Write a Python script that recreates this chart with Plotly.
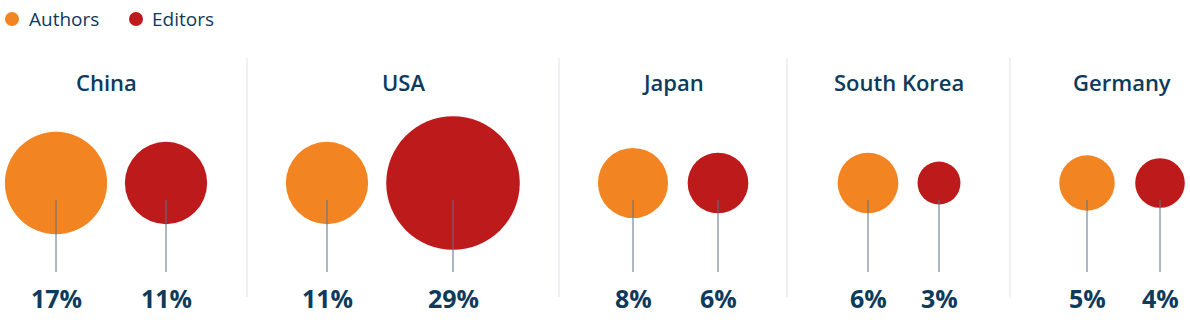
import plotly.graph_objects as go

# ---- data ----
countries = ["China", "USA", "Japan", "South Korea", "Germany"]
series_names = ["Authors", "Editors"]
authors_pct = [17, 11, 8, 6, 5]
editors_pct = [11, 29, 6, 3, 4]

# ---- layout constants (page pixel space) ----
W, H = 1190, 320
authors_x = [56, 327, 633, 868, 1087]
editors_x = [166, 453, 718, 939, 1160]
title_x = [106, 403, 673, 899, 1122]
sep_x = [247, 559, 787, 1010]
legend_dot_x = [12, 136]
legend_text_x = [27, 150]
LEGEND_Y = 19
CY = 183
STEM_TOP, STEM_BOT = 200, 272
LABEL_Y = 298
TITLE_Y = 82
PX_PER_SQRT = 24.8

ORANGE = "#F28522"
RED = "#BD1A1C"
NAVY = "#0E3A5C"
STEM = "#5E7184"
SEP = "#DCE0E5"
FONT = "Open Sans"
colors = [ORANGE, RED]

fig = go.Figure()

for name, xs, vals, col in ((series_names[0], authors_x, authors_pct, ORANGE),
                            (series_names[1], editors_x, editors_pct, RED)):
    fig.add_trace(go.Scatter(
        x=xs, y=[CY] * len(xs), mode="markers", name=name,
        marker=dict(size=vals, sizemode="area", sizeref=2 / PX_PER_SQRT ** 2,
                    color=col, opacity=1, line=dict(width=0)),
        text=countries, showlegend=False, hoverinfo="text+name", cliponaxis=False))

# stems
sx, sy = [], []
for x in authors_x + editors_x:
    sx += [x, x, None]
    sy += [STEM_TOP, STEM_BOT, None]
fig.add_trace(go.Scatter(x=sx, y=sy, mode="lines", line=dict(color=STEM, width=1),
                         showlegend=False, hoverinfo="skip"))

# legend (drawn)
fig.add_trace(go.Scatter(x=legend_dot_x, y=[LEGEND_Y] * 2, mode="markers",
                         marker=dict(size=14, color=colors, line=dict(width=0)),
                         showlegend=False, hoverinfo="skip", cliponaxis=False))

annotations = []
for name, tx in zip(series_names, legend_text_x):
    annotations.append(dict(x=tx, y=LEGEND_Y, text=name, showarrow=False,
                            xanchor="left", yanchor="middle",
                            font=dict(family=FONT, size=19, color=NAVY)))
for name, tx in zip(countries, title_x):
    annotations.append(dict(x=tx, y=TITLE_Y, text=name, showarrow=False,
                            xanchor="center", yanchor="middle",
                            font=dict(family=FONT, size=22, color=NAVY, weight=600)))
for vals, xs in ((authors_pct, authors_x), (editors_pct, editors_x)):
    for v, x in zip(vals, xs):
        annotations.append(dict(x=x, y=LABEL_Y, text=f"{v}%", showarrow=False,
                                xanchor="center", yanchor="middle",
                                font=dict(family=FONT, size=25, color=NAVY, weight=700)))

shapes = [dict(type="line", x0=x, x1=x, y0=58, y1=297, xref="x", yref="y",
               line=dict(color=SEP, width=1), layer="below") for x in sep_x]

fig.update_layout(
    width=W, height=H, margin=dict(l=0, r=0, t=0, b=0, autoexpand=False),
    paper_bgcolor="white", plot_bgcolor="white",
    xaxis=dict(range=[0, W], visible=False, fixedrange=True),
    yaxis=dict(range=[H, 0], visible=False, fixedrange=True),
    showlegend=False,
    annotations=annotations, shapes=shapes,
)

fig.write_html("out.html", config={"displayModeBar": False},
               post_script="document.body.style.margin='0';"
                           "document.body.style.overflow='hidden';")
